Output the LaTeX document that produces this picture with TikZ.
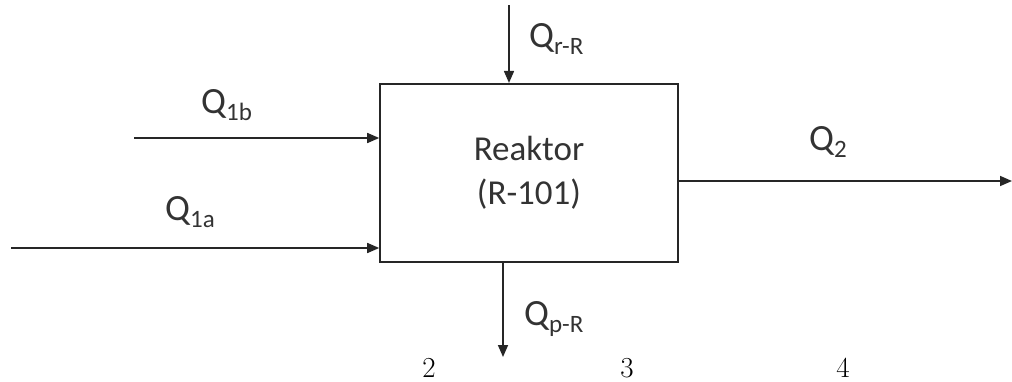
\documentclass[tikz,border=0pt]{standalone}
\usepackage{fontspec}
\newfontfamily\carl{Carlito}
\usetikzlibrary{arrows.meta}
\tikzset{
  flow/.style={line width=1.6pt, draw=black!85, -{Triangle[length=12pt,width=10pt]}},
  unit/.style={draw=black!85, line width=1.6pt, minimum width=298pt, minimum height=178pt, align=center, inner sep=0pt,
    font=\carl\fontsize{35}{44}\selectfont, text=black!80},
  qlab/.style={anchor=base west, inner sep=0pt, font=\carl\fontsize{37}{37}\selectfont, text=black!80},
  num/.style={anchor=base, inner sep=0pt, font=\fontsize{29}{29}\selectfont}
}
\newcommand{\qsub}[1]{\raisebox{-7pt}{\fontsize{25}{25}\selectfont #1}}
\begin{document}
\begin{tikzpicture}[x=1pt,y=-1pt]
\useasboundingbox (0,0) rectangle (1012,381);
\node[unit] (R) at (529,172.75) {Reaktor\\(R-101)};
\coordinate (rin) at (509,5);
\coordinate (pout) at (503,357);
\coordinate (b1) at (134,138);
\coordinate (a1) at (11,248);
\coordinate (q2) at (1012,181);
\draw[flow] (rin) -- (rin |- R.north);
\draw[flow] (pout |- R.south) -- (pout);
\draw[flow] (b1) -- (b1 -| R.west);
\draw[flow] (a1) -- (a1 -| R.west);
\draw[flow] (q2 -| R.east) -- (q2);
\node[qlab] (lrR) at (529,47) {Q\qsub{r-R}};
\node[qlab] (l1b) at (201,113) {Q\qsub{1b}};
\node[qlab] (l1a) at (165,220) {Q\qsub{1a}};
\node[qlab] (lpR) at (524,325) {Q\qsub{p-R}};
\node[qlab] (l2) at (809,150) {Q\qsub{2}};
\node[num] (n2) at (429,377) {2};
\node[num] (n3) at (627,377) {3};
\node[num] (n4) at (843,377) {4};
\end{tikzpicture}
\end{document}
